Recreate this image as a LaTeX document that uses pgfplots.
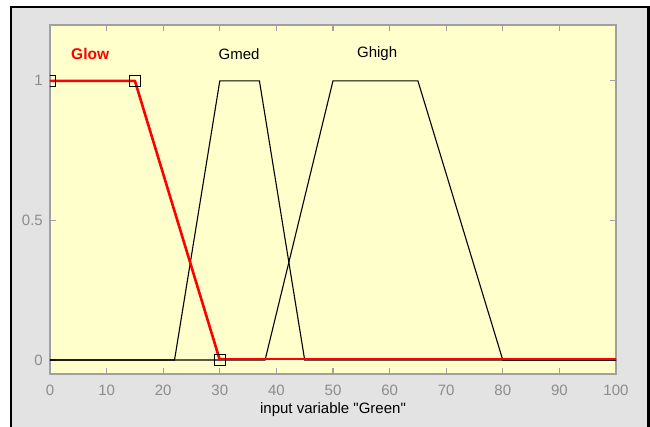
\documentclass[border=0pt]{standalone}
\usepackage{pgfplots}
\pgfplotsset{compat=1.18}
\usepackage{fontspec}
\setmainfont{Liberation Sans}[Ligatures=TeXOff]
\definecolor{bgyellow}{RGB}{255,255,204}
\definecolor{bggray}{RGB}{227,227,227}
\definecolor{axgray}{RGB}{160,160,160}
\definecolor{lblgray}{RGB}{140,140,140}
\begin{document}
\begin{tikzpicture}[x=1pt,y=1pt]
\useasboundingbox (0,0) rectangle (650,427);
\fill[white] (0,0) rectangle (650,427);
\fill[bggray] (11,0) rectangle (648.5,420);
\draw[black, line width=2.2pt] (11,0) -- (11,420) -- (648.5,420) -- (648.5,0);
\begin{axis}[
  at={(50pt,53pt)}, anchor=south west,
  scale only axis, width=566pt, height=349pt,
  xmin=0, xmax=100, ymin=-0.05, ymax=1.2,
  axis background/.style={fill=bgyellow},
  axis line style={axgray, line width=1.4pt},
  xtick={0,10,...,100}, ytick={0,0.5,1},
  yticklabels={0,0.5,1},
  tick align=inside, major tick length=6pt,
  tick style={axgray, line width=1.2pt},
  /pgf/number format/assume math mode=true,
  ticklabel style={font=\fontsize{15}{18}\selectfont, text=lblgray},
  xticklabel style={anchor=center, yshift=-16pt},
  yticklabel style={anchor=east, inner sep=0pt, xshift=-7pt},
  xlabel={input variable "Green"},
  xlabel style={at={(axis description cs:0.5,-0.103)}, anchor=center, font=\fontsize{15}{18}\selectfont},
  clip marker paths=true,
]
\addplot[black, line width=1.1pt] coordinates {(0,0) (22,0) (30,1) (37,1) (45,0) (100,0)};
\addplot[black, line width=1.1pt] coordinates {(0,0) (38,0) (50,1) (65,1) (80,0) (100,0)};
\addplot[red, line width=2.6pt, line join=round] coordinates {(0,1) (15,1) (30,0)};
\addplot[red, line width=2.6pt, yshift=1pt] coordinates {(30,0) (100,0)};
\addplot[only marks, mark=square, mark size=5.5pt, mark options={black, line width=1.1pt}] coordinates {(0,1) (15,1) (30,0)};
\node[red, font=\fontsize{15.5}{18}\selectfont\bfseries] at (axis cs:7.1,1.096) {Glow};
\node[black, font=\fontsize{15}{18}\selectfont] at (axis cs:33.4,1.096) {Gmed};
\node[black, font=\fontsize{15}{18}\selectfont] at (axis cs:57.8,1.096) {Ghigh};
\end{axis}
\end{tikzpicture}
\end{document}
